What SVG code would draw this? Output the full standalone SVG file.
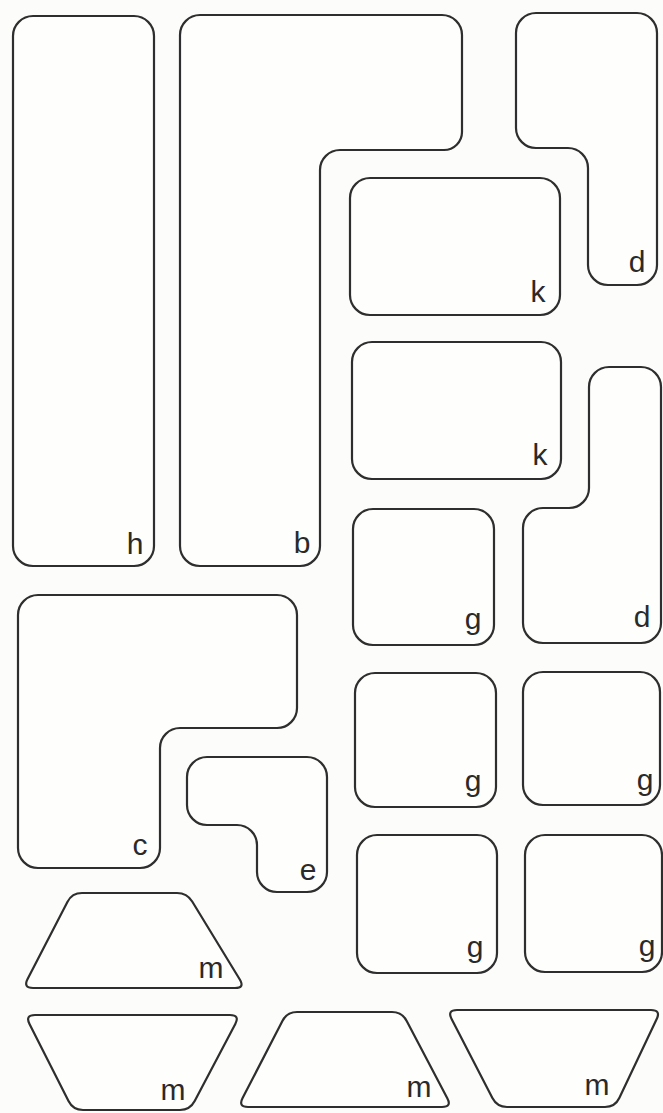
<svg xmlns="http://www.w3.org/2000/svg" width="663" height="1113" viewBox="0 0 663 1113">
<style>
.s{fill:#fefefd;stroke:#2e2e2e;stroke-width:2.2;stroke-linejoin:round}
.t{font-family:"Liberation Sans",Arial,sans-serif;font-size:30px;fill:#2a2a2a;text-anchor:middle}
</style>
<rect width="663" height="1113" fill="#fcfcfa"/>
<g id="piece-h"><rect class="s" x="13" y="16" width="141" height="550" rx="20"/><text class="t" x="135" y="554">h</text></g>
<g id="piece-b"><path class="s" d="M200,15 H442 A20,20 0 0 1 462,35 V132 A18,18 0 0 1 444,150 H340 A20,20 0 0 0 320,170 V546 A20,20 0 0 1 300,566 H200 A20,20 0 0 1 180,546 V35 A20,20 0 0 1 200,15 Z"/><text class="t" x="302" y="553">b</text></g>
<g id="piece-d1"><path class="s" d="M536,13 H637 A20,20 0 0 1 657,33 V265 A20,20 0 0 1 637,285 H608 A20,20 0 0 1 588,265 V168 A20,20 0 0 0 568,148 H536 A20,20 0 0 1 516,128 V33 A20,20 0 0 1 536,13 Z"/><text class="t" x="637" y="272">d</text></g>
<g id="piece-k1"><rect class="s" x="350" y="178" width="210" height="137" rx="20"/><text class="t" x="538" y="302">k</text></g>
<g id="piece-k2"><rect class="s" x="352" y="342" width="209" height="137" rx="20"/><text class="t" x="540" y="465">k</text></g>
<g id="piece-g1"><rect class="s" x="353" y="509" width="141" height="136" rx="20"/><text class="t" x="473" y="629">g</text></g>
<g id="piece-d2"><path class="s" d="M609,367 H641 A20,20 0 0 1 661,387 V623 A20,20 0 0 1 641,643 H543 A20,20 0 0 1 523,623 V528 A20,20 0 0 1 543,508 H569 A20,20 0 0 0 589,488 V387 A20,20 0 0 1 609,367 Z"/><text class="t" x="642" y="627">d</text></g>
<g id="piece-g2"><rect class="s" x="355" y="673" width="141" height="134" rx="20"/><text class="t" x="473" y="791">g</text></g>
<g id="piece-g3"><rect class="s" x="523" y="672" width="137" height="133" rx="20"/><text class="t" x="645" y="790">g</text></g>
<g id="piece-g4"><rect class="s" x="357" y="835" width="140" height="138" rx="20"/><text class="t" x="475" y="957">g</text></g>
<g id="piece-g5"><rect class="s" x="525" y="835" width="137" height="137" rx="20"/><text class="t" x="647" y="956">g</text></g>
<g id="piece-c"><path class="s" d="M38,595 H277 A20,20 0 0 1 297,615 V708 A20,20 0 0 1 277,728 H180 A20,20 0 0 0 160,748 V848 A20,20 0 0 1 140,868 H38 A20,20 0 0 1 18,848 V615 A20,20 0 0 1 38,595 Z"/><text class="t" x="140" y="855">c</text></g>
<g id="piece-e"><path class="s" d="M207,757 H307 A20,20 0 0 1 327,777 V872 A20,20 0 0 1 307,892 H277 A20,20 0 0 1 257,872 V845 A20,20 0 0 0 237,825 H207 A20,20 0 0 1 187,805 V777 A20,20 0 0 1 207,757 Z"/><text class="t" x="308" y="880">e</text></g>
<g id="piece-m1"><path class="s" d="M82,893 H177 Q187,893 192.2,901.5 L239.8,979.5 Q245,988 235,988 H33 Q23,988 27.6,979.1 L67.4,901.9 Q72,893 82,893 Z"/><text class="t" x="211" y="978">m</text></g>
<g id="piece-m2"><path class="s" d="M35,1015 H230 Q240,1015 235.3,1023.9 L194.7,1101.1 Q190,1110 180,1110 H83 Q73,1110 68.5,1101.1 L29.5,1023.9 Q25,1015 35,1015 Z"/><text class="t" x="173" y="1100">m</text></g>
<g id="piece-m3"><path class="s" d="M297,1012 H392 Q402,1012 406.7,1020.9 L447.3,1098.2 Q452,1107 442,1107 H248 Q238,1107 242.6,1098.1 L282.4,1020.9 Q287,1012 297,1012 Z"/><text class="t" x="419" y="1097">m</text></g>
<g id="piece-m4"><path class="s" d="M457,1010 H651 Q661,1010 656.7,1019 L619.3,1098 Q615,1107 605,1107 H507 Q497,1107 492.4,1098.1 L451.6,1018.9 Q447,1010 457,1010 Z"/><text class="t" x="597" y="1095">m</text></g>
<g id="connectors"/>
</svg>
